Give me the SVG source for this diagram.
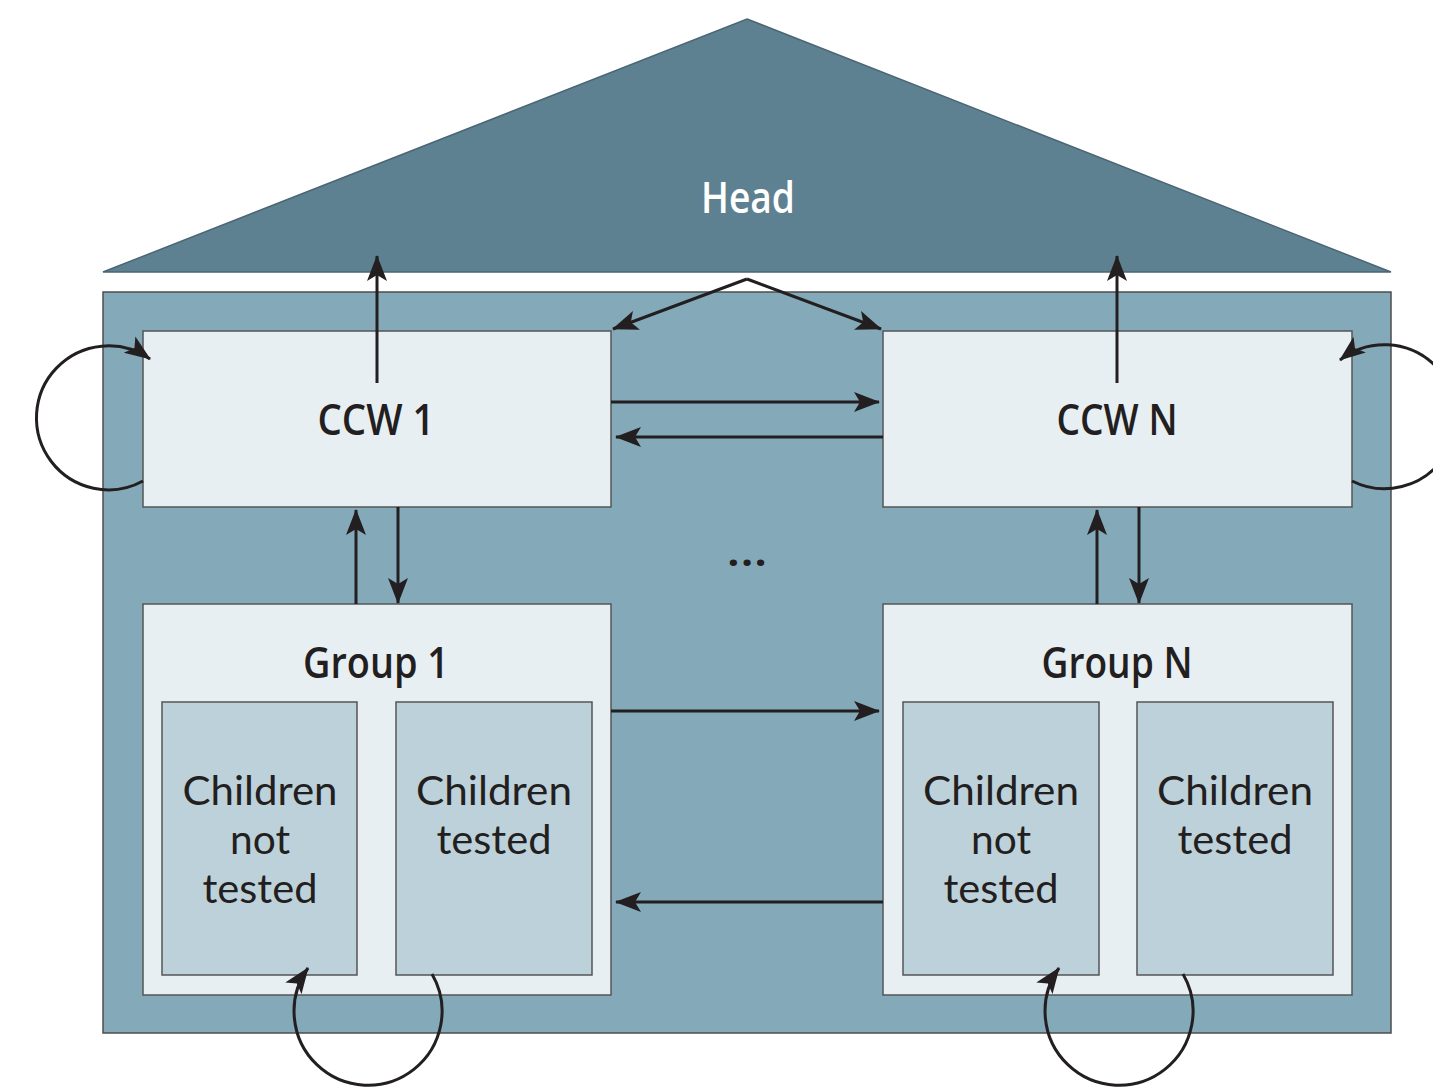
<svg xmlns="http://www.w3.org/2000/svg" width="1433" height="1091" viewBox="0 0 1433 1091">
<style>
.roof{fill:#5e8191;stroke:#4a6675;stroke-width:1.5}
.body{fill:#84a9b9;stroke:#4d4d4d;stroke-width:1.5}
.light{fill:#e8eff3;stroke:#555;stroke-width:1.5}
.child{fill:#bdd1da;stroke:#555;stroke-width:1.5}
.lbl{font-family:"Open Sans","Liberation Sans",sans-serif;font-weight:600;font-size:44px;fill:#231f20;text-anchor:middle}
.ctx{font-family:Lato,"Open Sans","Liberation Sans",sans-serif;font-weight:400;font-size:40px;fill:#231f20;text-anchor:middle}
.head{fill:#ffffff}
.con{fill:none;stroke:#231f20;stroke-width:3;marker-end:url(#ah)}
</style>
<defs>
<marker id="ah" markerUnits="userSpaceOnUse" markerWidth="26" markerHeight="22" viewBox="0 0 26 22" refX="25" refY="11" orient="auto">
<path d="M0,1 L26,11 L0,21 L6,11 z" fill="#231f20"/>
</marker>
</defs>
<rect width="1433" height="1091" fill="#ffffff"/>
<g id="head">
<polygon class="roof" points="747,19 1391,272 103,272"/>
<text class="lbl head" x="748" y="213" textLength="94" lengthAdjust="spacingAndGlyphs">Head</text>
</g>
<g id="household">
<rect class="body" x="103" y="292" width="1288" height="741"/>
</g>
<g id="ccw1">
<rect class="light" x="143" y="331" width="468" height="176"/>
<text class="lbl" x="376" y="435" textLength="117" lengthAdjust="spacingAndGlyphs">CCW 1</text>
</g>
<g id="ccwN">
<rect class="light" x="883" y="331" width="469" height="176"/>
<text class="lbl" x="1117" y="435" textLength="121" lengthAdjust="spacingAndGlyphs">CCW N</text>
</g>
<g id="dots">
<text class="lbl" x="747" y="566" textLength="41" lengthAdjust="spacingAndGlyphs">...</text>
</g>
<g id="group1">
<rect class="light" x="143" y="604" width="468" height="391"/>
<text class="lbl" x="376" y="678" textLength="146" lengthAdjust="spacingAndGlyphs">Group 1</text>
</g>
<g id="group1-not-tested">
<rect class="child" x="162" y="702" width="195" height="273"/>
<text class="ctx" x="260" y="805" textLength="155" lengthAdjust="spacingAndGlyphs">Children</text>
<text class="ctx" x="260" y="854" textLength="60" lengthAdjust="spacingAndGlyphs">not</text>
<text class="ctx" x="260" y="903" textLength="115" lengthAdjust="spacingAndGlyphs">tested</text>
</g>
<g id="group1-tested">
<rect class="child" x="396" y="702" width="196" height="273"/>
<text class="ctx" x="494" y="805" textLength="156" lengthAdjust="spacingAndGlyphs">Children</text>
<text class="ctx" x="494" y="854" textLength="115" lengthAdjust="spacingAndGlyphs">tested</text>
</g>
<g id="groupN">
<rect class="light" x="883" y="604" width="469" height="391"/>
<text class="lbl" x="1117" y="678" textLength="151" lengthAdjust="spacingAndGlyphs">Group N</text>
</g>
<g id="groupN-not-tested">
<rect class="child" x="903" y="702" width="196" height="273"/>
<text class="ctx" x="1001" y="805" textLength="156" lengthAdjust="spacingAndGlyphs">Children</text>
<text class="ctx" x="1001" y="854" textLength="60" lengthAdjust="spacingAndGlyphs">not</text>
<text class="ctx" x="1001" y="903" textLength="115" lengthAdjust="spacingAndGlyphs">tested</text>
</g>
<g id="groupN-tested">
<rect class="child" x="1137" y="702" width="196" height="273"/>
<text class="ctx" x="1235" y="805" textLength="156" lengthAdjust="spacingAndGlyphs">Children</text>
<text class="ctx" x="1235" y="854" textLength="115" lengthAdjust="spacingAndGlyphs">tested</text>
</g>
<g id="connectors">
<path class="con" d="M377,383 V256"/>
<path class="con" d="M1117,383 V256"/>
<path class="con" d="M747,279 L613,329"/>
<path class="con" d="M747,279 L881,329"/>
<path class="con" d="M611,402 H879"/>
<path class="con" d="M883,437 H616"/>
<path class="con" d="M356,604 V510"/>
<path class="con" d="M398,507 V603"/>
<path class="con" d="M1097,604 V510"/>
<path class="con" d="M1139,507 V603"/>
<path class="con" d="M611,711 H879"/>
<path class="con" d="M883,902 H616"/>
<path class="con" d="M143,481 A72,72 0 1 1 150,359"/>
<path class="con" d="M1352,481 A72,72 0 1 0 1340,360"/>
<path class="con" d="M432,974 A74,74 0 1 1 308,968"/>
<path class="con" d="M1183,974 A74,74 0 1 1 1059,968"/>
</g>
</svg>
